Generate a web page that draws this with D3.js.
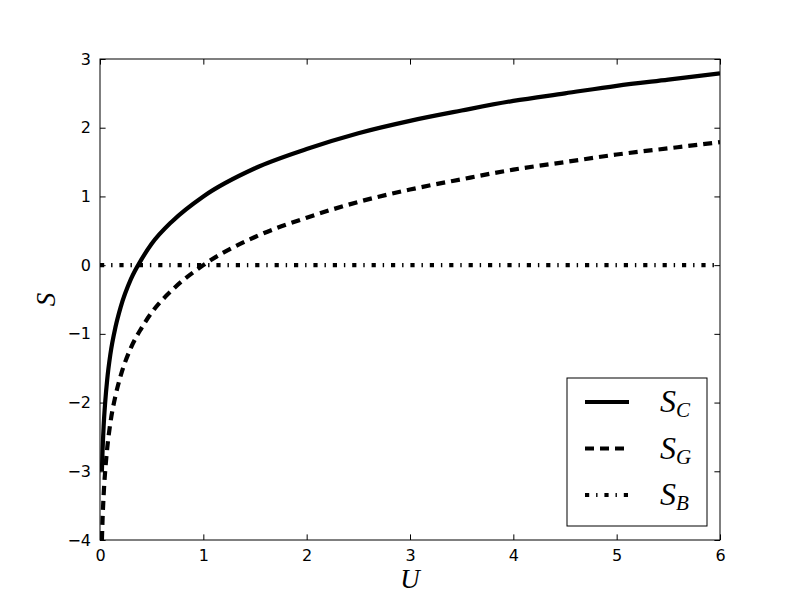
<!DOCTYPE html>
<html>
<head>
<meta charset="utf-8">
<script src="https://cdn.jsdelivr.net/npm/d3@7"></script>
<style>
  body { margin: 0; background: #fff; }
  svg { display: block; }
</style>
</head>
<body>
<div id="chart"></div>
<script>
var width = 800, height = 600

// values
const U   = [0.0183, 0.025, 0.035, 0.05, 0.07, 0.1, 0.15, 0.2, 0.3, 0.4, 0.5, 0.7, 1, 1.5, 2, 2.5, 3, 3.5, 4, 4.5, 5, 5.5, 6]
const S_C = [-3.00, -2.69, -2.35, -2.00, -1.66, -1.30, -0.90, -0.61, -0.20, 0.08, 0.31, 0.64, 1.00, 1.41, 1.69, 1.92, 2.10, 2.25, 2.39, 2.50, 2.61, 2.70, 2.79]
const S_G = [-4.00, -3.69, -3.35, -3.00, -2.66, -2.30, -1.90, -1.61, -1.20, -0.92, -0.69, -0.36, 0.00, 0.41, 0.69, 0.92, 1.10, 1.25, 1.39, 1.50, 1.61, 1.70, 1.79]
const U_B = [0, 6]
const S_B = [0, 0]

const xTicks = [0, 1, 2, 3, 4, 5, 6]
const yTicks = [-4, -3, -2, -1, 0, 1, 2, 3]

const series = [
	{ name: 'S', sub: 'C', xs: U, ys: S_C, dash: null },
	{ name: 'S', sub: 'G', xs: U, ys: S_G, dash: '9,6' },
	{ name: 'S', sub: 'B', xs: U_B, ys: S_B, dash: '4.2,6.9,1.4,6.9' }
]

const margin = { top: 59, right: 80, bottom: 60, left: 100 }

const svg = d3.select('#chart')
	.append('svg')
	.attr('width', width)
	.attr('height', height)

const x = d3.scaleLinear().domain([0, 6]).range([margin.left, width - margin.right])
const y = d3.scaleLinear().domain([-4, 3]).range([height - margin.bottom, margin.top])

svg.append('clipPath').attr('id', 'clip')
	.append('rect')
	.attr('x', x(0)).attr('y', y(3))
	.attr('width', x(6) - x(0)).attr('height', y(-4) - y(3))

const line = d3.line()
	.x(d => x(d[0]))
	.y(d => y(d[1]))
	.curve(d3.curveMonotoneX)

svg.append('g')
	.attr('clip-path', 'url(#clip)')
	.selectAll('path')
	.data(series)
	.join('path')
	.attr('d', s => line(s.xs.map((v, i) => [v, s.ys[i]])))
	.attr('fill', 'none')
	.attr('stroke', '#000')
	.attr('stroke-width', 4.2)
	.attr('stroke-dasharray', s => s.dash)

// axes, ticks pointing inward on all sides
const tickLen = 5.6
const axisFont = 'DejaVu Sans, sans-serif'

svg.append('g')
	.attr('transform', `translate(0,${y(-4)})`)
	.call(d3.axisBottom(x).tickValues(xTicks).tickSizeInner(-tickLen).tickSizeOuter(0).tickPadding(10).tickFormat(d3.format('d')))
svg.append('g')
	.attr('transform', `translate(0,${y(3)})`)
	.call(d3.axisTop(x).tickValues(xTicks).tickSizeInner(-tickLen).tickSizeOuter(0).tickFormat(''))
svg.append('g')
	.attr('transform', `translate(${x(0)},0)`)
	.call(d3.axisLeft(y).tickValues(yTicks).tickSizeInner(-tickLen).tickSizeOuter(0).tickPadding(9).tickFormat(d => d < 0 ? '\u2212' + Math.abs(d) : d))
svg.append('g')
	.attr('transform', `translate(${x(6)},0)`)
	.call(d3.axisRight(y).tickValues(yTicks).tickSizeInner(-tickLen).tickSizeOuter(0).tickFormat(''))

svg.selectAll('.domain').remove()
svg.selectAll('.tick line').attr('stroke', '#000').attr('stroke-width', 1)
svg.selectAll('.tick text')
	.attr('fill', '#000')
	.style('font-family', axisFont)
	.style('font-size', '16px')

svg.append('rect')
	.attr('x', x(0)).attr('y', y(3))
	.attr('width', x(6) - x(0)).attr('height', y(-4) - y(3))
	.attr('fill', 'none')
	.attr('stroke', '#000')
	.attr('stroke-width', 1)

// axis labels
const mathFont = 'Liberation Serif, DejaVu Serif, serif'
svg.append('text')
	.attr('x', (x(0) + x(6)) / 2)
	.attr('y', 588)
	.attr('text-anchor', 'middle')
	.style('font-family', mathFont)
	.style('font-style', 'italic')
	.style('font-size', '27px')
	.text('U')

svg.append('text')
	.attr('transform', `translate(55,${(y(3) + y(-4)) / 2}) rotate(-90)`)
	.attr('text-anchor', 'middle')
	.style('font-family', mathFont)
	.style('font-style', 'italic')
	.style('font-size', '27px')
	.text('S')

// legend
const legend = svg.append('g')
legend.append('rect')
	.attr('x', 567).attr('y', 378)
	.attr('width', 140).attr('height', 148)
	.attr('fill', '#fff')
	.attr('stroke', '#000')
	.attr('stroke-width', 1)

const entry = legend.selectAll('g.entry')
	.data(series)
	.join('g')
	.attr('class', 'entry')
	.attr('transform', (d, i) => `translate(0,${402 + i * 46.5})`)

entry.append('line')
	.attr('x1', 585).attr('x2', 629)
	.attr('stroke', '#000')
	.attr('stroke-width', 4.2)
	.attr('stroke-dasharray', d => d.dash)

const lbl = entry.append('text')
	.attr('x', 660)
	.attr('y', 10)
	.style('font-family', mathFont)
	.style('font-style', 'italic')
	.style('font-size', '32px')
lbl.append('tspan').text(d => d.name)
lbl.append('tspan')
	.attr('dy', 5)
	.style('font-size', '21px')
	.text(d => d.sub)
</script>
</body>
</html>
